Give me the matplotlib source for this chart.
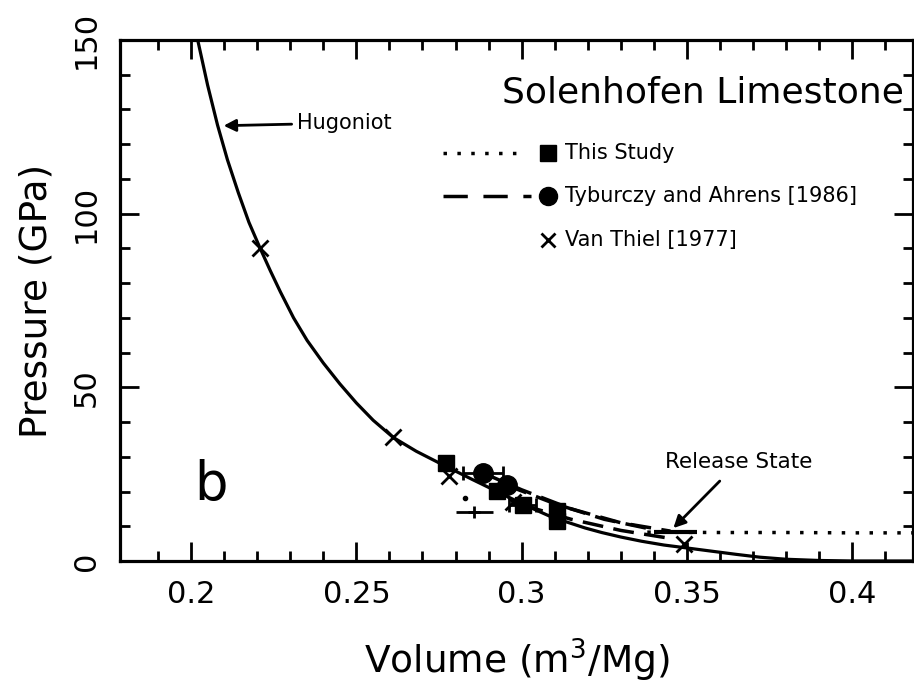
import matplotlib
matplotlib.use("Agg")
import matplotlib.pyplot as plt
import numpy as np

plt.rcParams['font.family'] = ['DejaVu Sans']

# Hugoniot curve (V in m^3/Mg, P in GPa)
hug_v = [0.2020, 0.2050, 0.2080, 0.2110, 0.2143, 0.2175, 0.2209, 0.2240, 0.2270,
         0.2310, 0.2351, 0.2400, 0.2450, 0.2500, 0.2551, 0.2611, 0.2681, 0.2751,
         0.2850, 0.2930, 0.3012, 0.3092, 0.3192, 0.3242, 0.3300, 0.3362, 0.3430,
         0.3512, 0.3593, 0.3650, 0.3720, 0.3800, 0.3900, 0.4000, 0.4200]
hug_p = [150.0, 137.0, 125.5, 115.5, 106.0, 97.5, 90.0, 83.5, 77.5,
         70.0, 63.5, 57.0, 51.0, 45.5, 40.5, 35.6, 31.6, 28.2,
         23.5, 19.8, 16.0, 12.6, 9.5, 8.2, 6.9, 5.7, 4.6,
         3.6, 2.6, 1.9, 1.1, 0.5, 0.15, 0.0, 0.0]

# This Study (squares)
study_v = [0.2772, 0.2925, 0.3003, 0.3106, 0.3106]
study_p = [28.2, 20.1, 16.1, 14.5, 11.5]
study_xerr = [0.0, 0.0, 0.004, 0.0, 0.0]

# Tyburczy and Ahrens [1986] (circles)
tyb_v = [0.2884, 0.2955]
tyb_p = [25.3, 21.8]
tyb_xerr = [0.006, 0.0]

# Van Thiel [1977] (crosses)
vt_v = [0.2209, 0.2611, 0.2779, 0.2975, 0.3490]
vt_p = [90.0, 35.6, 24.4, 17.0, 5.0]

# release paths
rel_dash1_v = [0.2884, 0.3000, 0.3150, 0.3300, 0.3450]
rel_dash1_p = [25.3, 20.5, 15.0, 11.0, 8.6]
rel_dash2_v = [0.2955, 0.3100, 0.3250, 0.3400]
rel_dash2_p = [21.8, 16.5, 12.0, 9.0]
rel_dash3_v = [0.3003, 0.3150, 0.3300, 0.3450]
rel_dash3_p = [16.1, 12.0, 8.8, 6.5]
rel_dot_v = [0.3380, 0.3600, 0.3800, 0.4000, 0.4200]
rel_dot_p = [8.3, 8.2, 8.2, 8.1, 8.1]

# release state bar and isolated points
relstate_v, relstate_p, relstate_xerr = 0.3465, 8.3, 0.0065
extra_v, extra_p, extra_xerr = 0.2857, 14.2, 0.0055
dot_v, dot_p = 0.283, 18.2

fig = plt.figure(figsize=(9.14, 6.88), dpi=100)
ax = fig.add_axes([0.1313, 0.1846, 0.8677, 0.7573])

ax.plot(hug_v, hug_p, 'k-', linewidth=2.3)
for rv, rp in [(rel_dash1_v, rel_dash1_p), (rel_dash2_v, rel_dash2_p),
               (rel_dash3_v, rel_dash3_p)]:
    ax.plot(rv, rp, 'k', linewidth=2.5, dashes=(6, 3))
ax.plot(rel_dot_v, rel_dot_p, 'k', linestyle=(0, (1, 3)), linewidth=2.5)

ax.errorbar(study_v, study_p, xerr=study_xerr, fmt='s', color='k', markersize=12,
            elinewidth=2, capsize=5, capthick=2)
ax.errorbar(tyb_v, tyb_p, xerr=tyb_xerr, fmt='o', color='k', markersize=14,
            elinewidth=2, capsize=5, capthick=2)
ax.plot(vt_v, vt_p, 'kx', markersize=11, markeredgewidth=2)
ax.errorbar([relstate_v], [relstate_p], xerr=[relstate_xerr], fmt='none', ecolor='k',
            elinewidth=3)
ax.errorbar([extra_v], [extra_p], xerr=[extra_xerr], fmt='+', color='k', markersize=9,
            elinewidth=2, markeredgewidth=2)
ax.plot([dot_v], [dot_p], 'k.', markersize=6)

ax.set_xlim(0.1785, 0.4184)
ax.set_ylim(0, 150)
ax.set_xticks([0.2, 0.25, 0.3, 0.35, 0.4])
ax.set_xticklabels(['0.2', '0.25', '0.3', '0.35', '0.4'])
ax.set_xticks(np.arange(0.19, 0.42, 0.01), minor=True)
ax.set_yticks([0, 50, 100, 150])
ax.set_yticks(np.arange(0, 151, 10), minor=True)
ax.tick_params(which='both', direction='in', top=True, right=True, width=2, labelsize=22)
ax.tick_params(which='major', length=14, pad=14)
ax.tick_params(which='minor', length=7)
for lbl in ax.get_yticklabels():
    lbl.set_rotation(90)
    lbl.set_va('center')
for sp in ax.spines.values():
    sp.set_linewidth(2.3)

ax.set_xlabel('Volume (m$^3$/Mg)', fontsize=27, labelpad=20)
ax.set_ylabel('Pressure (GPa)', fontsize=27, labelpad=12)

ax.text(0.988, 0.90, 'Solenhofen Limestone', transform=ax.transAxes, fontsize=26,
        ha='right', va='center')
ax.text(0.2059, 21.8, 'b', fontsize=38, ha='center', va='center')

ax.annotate('Hugoniot', xy=(0.2090, 125.3), xytext=(0.2321, 126.1), fontsize=15,
            ha='left', va='center',
            arrowprops=dict(arrowstyle='-|>', color='k', lw=2, mutation_scale=18))
ax.annotate('Release State', xy=(0.3453, 8.9), xytext=(0.3655, 28.4), fontsize=15.5,
            ha='center', va='center',
            arrowprops=dict(arrowstyle='-|>', color='k', lw=2, mutation_scale=18,
                            shrinkA=6))

# manual legend
t = ax.transAxes
ax.plot([0.407, 0.504], [0.783, 0.783], 'k', linestyle=(0, (1, 3)), linewidth=2.5, transform=t)
ax.plot([0.540], [0.783], 'ks', markersize=11, transform=t)
ax.text(0.561, 0.783, 'This Study', transform=t, fontsize=15, va='center')
ax.plot([0.407, 0.518], [0.7006, 0.7006], 'k', dashes=(7, 4.5), linewidth=2.5, transform=t)
ax.plot([0.540], [0.7006], 'ko', markersize=13, transform=t)
ax.text(0.561, 0.7006, 'Tyburczy and Ahrens [1986]', transform=t, fontsize=15, va='center')
ax.plot([0.540], [0.616], 'kx', markersize=10, markeredgewidth=2, transform=t)
ax.text(0.561, 0.616, 'Van Thiel [1977]', transform=t, fontsize=15, va='center')

fig.savefig('out.png', dpi=100)
